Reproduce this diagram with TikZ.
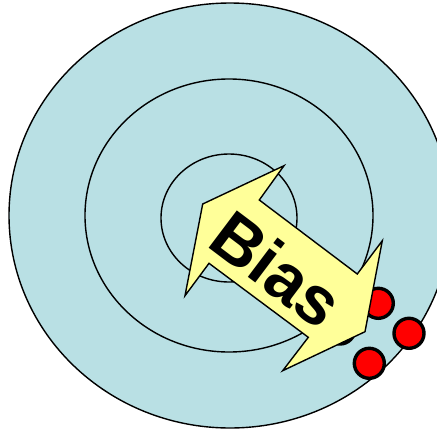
\documentclass[tikz,border=0pt]{standalone}
\usepackage{fontspec}
\setmainfont{Liberation Sans}
\definecolor{target}{RGB}{185,224,228}
\definecolor{arrowyellow}{RGB}{255,255,153}
\tikzset{
  ring/.style={draw=black, line width=1.4pt},
  hit/.style={draw=black, fill=red, line width=3.4pt},
  biasarrow/.style={draw=black, fill=arrowyellow, line width=1.4pt, line join=miter},
}
\begin{document}
\begin{tikzpicture}[x=1pt,y=-1pt]
\useasboundingbox (0,0) rectangle (437,429);
\clip (0,0) rectangle (437,429);
\fill[white] (0,0) rectangle (437,429);
\draw[ring, fill=target] (230,215.5) ellipse [x radius=221, y radius=212.5];
\draw[ring] (229,215.5) ellipse [x radius=144, y radius=136.5];
\draw[ring] (229,218) ellipse [x radius=68, y radius=64];
\draw[hit] (378.3,303.3) circle [radius=15];
\draw[hit] (340,329) circle [radius=15];
\draw[hit] (409,333.3) circle [radius=15];
\draw[hit] (369.3,363.3) circle [radius=15];
\draw[biasarrow] (284,165.7) -- (259.3,200) -- (357.3,274) -- (382.3,240.7)
  -- (365,331.7) -- (282.7,370.7) -- (308.3,337.3) -- (209,263.3)
  -- (185,295.7) -- (202.7,204) -- cycle;
\node[rotate=-37, inner sep=0pt, font=\bfseries\fontsize{68}{68}\selectfont] (bias) at (277,269) {Bias};
\end{tikzpicture}
\end{document}
